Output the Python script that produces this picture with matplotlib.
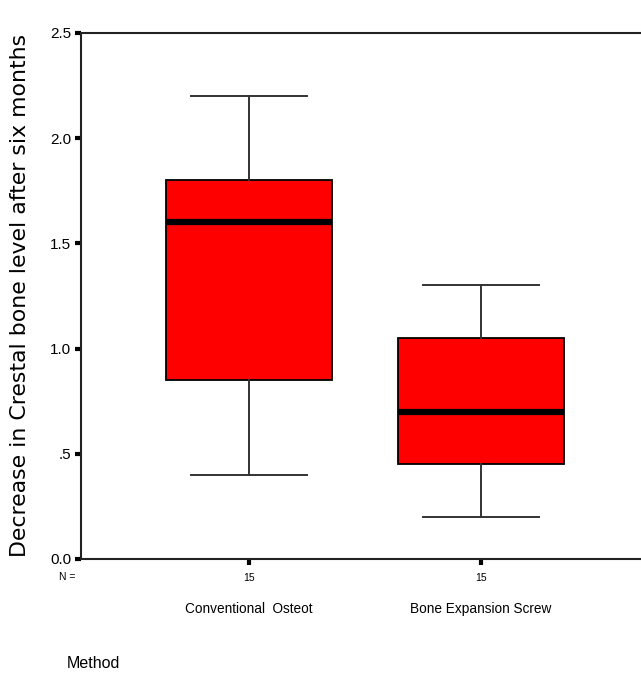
import matplotlib.pyplot as plt

# box plot summary values
methods = ['Conventional  Osteot', 'Bone Expansion Screw']
n_counts = [15, 15]
medians = [1.6, 0.7]
q1 = [0.85, 0.45]
q3 = [1.8, 1.05]
whis_lo = [0.4, 0.2]
whis_hi = [2.2, 1.3]

yticks = [0.0, 0.5, 1.0, 1.5, 2.0, 2.5]
ytick_labels = ['0.0', '.5', '1.0', '1.5', '2.0', '2.5']
ylabel = 'Decrease in Crestal bone level after six months'

fig = plt.figure(figsize=(6.41, 6.77), dpi=100)
ax = fig.add_axes([81/641, 1 - 559/677, 1 - 81/641, (559 - 33)/677])

stats = []
for i in range(len(methods)):
    stats.append({'med': medians[i], 'q1': q1[i], 'q3': q3[i],
                  'whislo': whis_lo[i], 'whishi': whis_hi[i], 'fliers': []})

pos = [1, 2]
ax.bxp(stats, positions=pos, widths=0.716, capwidths=0.5, patch_artist=True,
       showfliers=False,
       boxprops=dict(facecolor='#ff0000', edgecolor='black', linewidth=1.3),
       medianprops=dict(color='black', linewidth=4.5, solid_capstyle='butt'),
       whiskerprops=dict(color='#333333', linewidth=1.4),
       capprops=dict(color='#333333', linewidth=1.4))

ax.set_xlim(1 - 168/232, 2 + 160/232)
ax.set_ylim(0, 2.5)

ax.spines['right'].set_visible(False)
for s in ['left', 'top', 'bottom']:
    ax.spines[s].set_linewidth(1.5)
    ax.spines[s].set_color('#222222')

ax.set_yticks(yticks)
ax.set_yticklabels(ytick_labels, fontsize=11, family=['Liberation Sans', 'DejaVu Sans'])
ax.tick_params(axis='y', length=4, width=3, direction='out', pad=3, colors='black')

ax.set_xticks(pos)
ax.set_xticklabels([str(n) for n in n_counts], fontsize=7.5,
                   family=['Liberation Sans', 'DejaVu Sans'])
ax.tick_params(axis='x', length=4, width=3, direction='out', pad=6)

ax.text(-0.025, -0.034, 'N =', transform=ax.transAxes, ha='center', va='center',
        fontsize=7.5, family=['Liberation Sans', 'DejaVu Sans'])

for p, name in zip(pos, methods):
    ax.text(p, -0.095, name, transform=ax.get_xaxis_transform(), ha='center', va='center',
            fontsize=9.8, family=['Liberation Sans', 'DejaVu Sans'])

fig.text(67/641, 1 - 663/677, 'Method', ha='left', va='center', fontsize=11.5,
         family=['Liberation Sans', 'DejaVu Sans'])

fig.text(20/641, 1 - 295/677, ylabel,
         rotation=90, ha='center', va='center', fontsize=15.8,
         family=['DejaVu Sans'])

fig.savefig('out.png', dpi=100, facecolor='white')
